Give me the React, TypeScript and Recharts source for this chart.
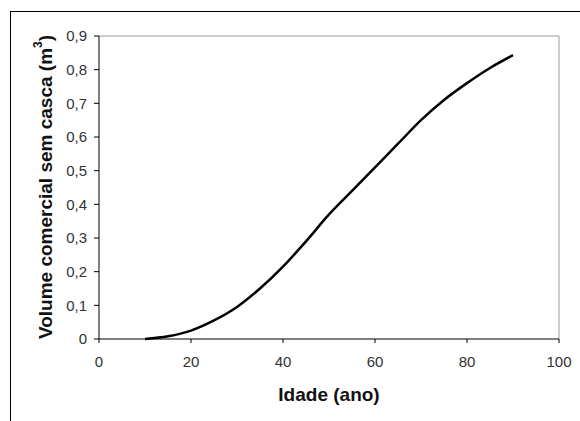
// Volume comercial sem casca vs idade: single smooth growth curve

import { LineChart, Line, XAxis, YAxis, ReferenceLine } from "recharts";

const idade = [10, 15, 20, 25, 30, 35, 40, 45, 50, 55, 60, 65, 70, 75, 80, 85, 90];
const volume = [0, 0.008, 0.025, 0.055, 0.095, 0.15, 0.215, 0.29, 0.37, 0.44, 0.51, 0.58, 0.65, 0.71, 0.76, 0.805, 0.843];
const xTicks = [0, 20, 40, 60, 80, 100];
const yTicks = [0, 0.1, 0.2, 0.3, 0.4, 0.5, 0.6, 0.7, 0.8, 0.9];

const data = idade.map((x, i) => ({ idade: x, volume: volume[i] }));

const FONT = "'Liberation Sans', Arial, sans-serif";
const tickStyle = { fontSize: 15, fill: "#333", fontFamily: FONT };

function YLabel() {
  return (
    <text
      x={45}
      y={187}
      transform="rotate(-90, 45, 187)"
      textAnchor="middle"
      dominantBaseline="central"
      fontFamily={FONT}
      fontWeight={700}
      fontSize={19}
      fill="#111"
    >
      Volume comercial sem casca (m
      <tspan dy={-7} fontSize={12}>3</tspan>
      <tspan dy={7}>)</tspan>
    </text>
  );
}

function XLabel() {
  return (
    <text
      x={329}
      y={401}
      textAnchor="middle"
      fontFamily={FONT}
      fontWeight={700}
      fontSize={19}
      fill="#111"
    >
      Idade (ano)
    </text>
  );
}

export default function App() {
  return (
    <div
      style={{
        position: "absolute",
        left: 0,
        top: 0,
        width: 580,
        height: 421,
        overflow: "hidden",
        background: "#fff",
      }}
    >
      <div
        style={{
          position: "absolute",
          left: 10,
          top: 11,
          width: 620,
          height: 460,
          border: "1px solid #000",
        }}
      />
      <div style={{ position: "absolute", left: 0, top: 0 }}>
        <LineChart
          width={580}
          height={421}
          data={data}
          margin={{ top: 36, right: 21, bottom: 0, left: 0 }}
        >
          <XAxis
            dataKey="idade"
            type="number"
            domain={[0, 100]}
            ticks={xTicks}
            tickSize={4}
            tickMargin={13}
            height={82}
            stroke="#000"
            tick={tickStyle}
            tickLine={{ stroke: "#000" }}
            label={{ content: () => <XLabel /> }}
          />
          <YAxis
            type="number"
            domain={[0, 0.9]}
            ticks={yTicks}
            width={99}
            tickSize={5}
            tickMargin={7}
            stroke="#000"
            tick={tickStyle}
            tickLine={{ stroke: "#000" }}
            tickFormatter={(v: number) => (v === 0 ? "0" : v.toFixed(1).replace(".", ","))}
            label={{ content: () => <YLabel /> }}
          />
          <ReferenceLine y={0.9} stroke="#9a9a9a" strokeWidth={1} />
          <ReferenceLine x={100} stroke="#9a9a9a" strokeWidth={1} />
          <Line
            type="monotone"
            dataKey="volume"
            stroke="#000"
            strokeWidth={2.5}
            dot={false}
            isAnimationActive={false}
          />
        </LineChart>
      </div>
    </div>
  );
}
